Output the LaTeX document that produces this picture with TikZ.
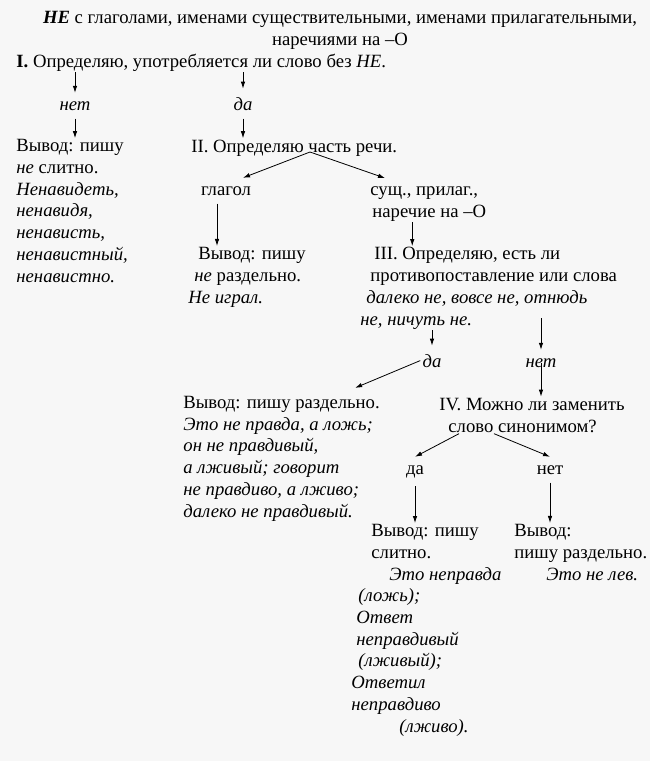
\documentclass[tikz,border=0pt]{standalone}
\usepackage{fontspec}
\setmainfont{Liberation Serif}
\usetikzlibrary{arrows.meta,calc}
\definecolor{bgcol}{RGB}{247,247,247}

\begin{document}
\begin{tikzpicture}[x=1pt,y=-1pt,line width=0.8pt,>={Latex[length=7pt,width=4.5pt]},
  font=\fontsize{18.7}{21.7}\selectfont,
  blk/.style={anchor=base west,align=left,inner sep=1pt},
  lbl/.style={anchor=base,inner xsep=2pt,inner ysep=8pt}]
\useasboundingbox (0,0) rectangle (650,761);
\fill[bgcol] (0,0) rectangle (650,761);
% заголовок (base = последняя строка)
\node[anchor=base,align=center,inner sep=1pt] (title) at (340,45)
  {\textbf{\textit{НЕ}} с глаголами, именами существительными, именами прилагательными,\\наречиями на –О};
% шаг I
\node[blk] (q1) at (15,67) {\textbf{I.} Определяю, употребляется ли слово без \textit{НЕ}.};
\node[lbl] (net1) at (75,110) {\textit{нет}};
\node[lbl] (da1) at (243,110) {\textit{да}};
\draw[->] (q1.south -| net1) -- (net1.north);
\draw[->] (q1.south -| da1) -- (da1.north);
\node[blk] (outA) at (15,282) {Вывод: пишу\\\textit{не} слитно.\\\textit{Ненавидеть,}\\\textit{ненавидя,}\\\textit{ненависть,}\\\textit{ненавистный,}\\\textit{ненавистно.}};
\node[blk] (q2) at (190,152) {II. Определяю часть речи.};
\draw[->] (net1.south) -- (net1 |- outA.north);
\draw[->] (da1.south) -- (da1 |- q2.north);
% шаг II
\coordinate (fork2) at (310,152);
\node[lbl] (verb) at (226,195) {глагол};
\node[blk] (noun) at (369,217) {сущ., прилаг.,\\\hspace*{2pt}наречие на –О};
\draw[->] (fork2) -- ($(verb.north)+(17,0)$);
\draw[->] (fork2) -- ($(noun.north west)+(16,-7)$);
\node[blk] (outB) at (187,303) {\hspace*{10pt}Вывод: пишу\\\hspace*{6pt}\textit{не} раздельно.\\\textit{Не играл.}};
\node[blk] (q3) at (359,325) {\hspace*{14pt}III. Определяю, есть ли\\\hspace*{10pt}противопоставление или слова\\\hspace*{6pt}\textit{далеко не, вовсе не, отнюдь}\\\textit{не, ничуть не.}};
\draw[->] ([xshift=-9pt]verb.south) -- ([xshift=-9pt]verb.south |- outB.north);
\draw[->] ([xshift=-16pt]noun.south) -- ([xshift=-16pt]noun.south |- q3.north);
% шаг III
\node[lbl] (da2) at (432,367) {\textit{да}};
\node[lbl] (net2) at (541,367) {\textit{нет}};
\coordinate (q3net) at (541,318);
\draw[->] (q3.south -| da2) -- (da2.north);
\draw[->] (q3net) -- (net2.north);
\node[blk] (outC) at (182,517) {Вывод: пишу раздельно.\\\textit{Это не правда, а ложь;}\\\textit{он не правдивый,}\\\textit{а лживый; говорит}\\\textit{не правдиво, а лживо;}\\\textit{далеко не правдивый.}};
\node[blk] (q4) at (438,432) {IV. Можно ли заменить\\\hspace*{9pt}слово синонимом?};
\draw[->] (da2.west) -- ($(outC.north east)+(-26,-7)$);
\draw[->] (net2.center) -- (net2 |- q4.north);
% шаг IV
\node[lbl] (da3) at (415,474) {да};
\node[lbl] (net3) at (550,474) {нет};
\draw[->] ($(q4.south west)+(21,0)$) -- (da3.north);
\draw[->] ($(q4.south west)+(56,0)$) -- (net3.north);
\node[blk] (outD) at (350,732) {\hspace*{20pt}Вывод: пишу\\\hspace*{20pt}слитно.\\\hspace*{38pt}\textit{Это неправда}\\\hspace*{7pt}\textit{(ложь);}\\\hspace*{5pt}\textit{Ответ}\\\hspace*{5pt}\textit{неправдивый}\\\hspace*{7pt}\textit{(лживый);}\\\textit{Ответил}\\\textit{неправдиво}\\\hspace*{48pt}\textit{(лживо).}};
\node[blk] (outE) at (513,580) {Вывод:\\пишу раздельно.\\\hspace*{32pt}\textit{Это не лев.}};
\draw[->] (da3.south) -- (da3 |- outD.north);
\draw[->] (net3.south) -- (net3 |- outE.north);
\end{tikzpicture}
\end{document}
